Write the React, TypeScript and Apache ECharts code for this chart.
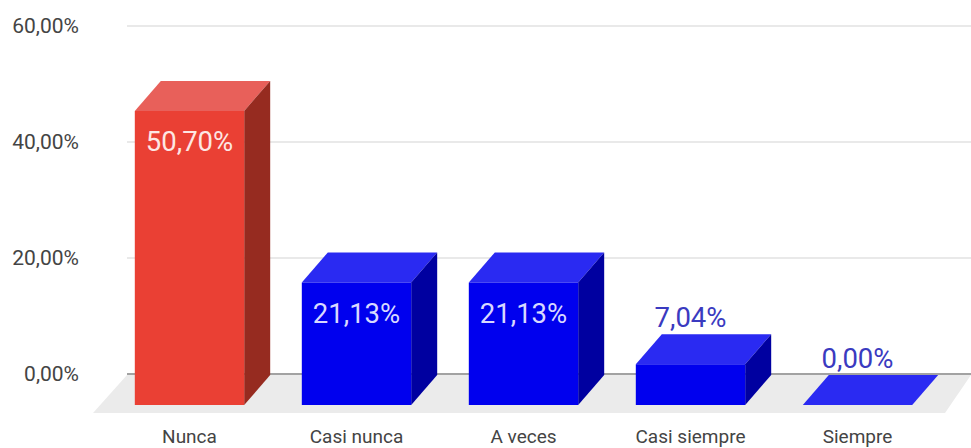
import React, { useEffect, useRef } from "react";
import * as echarts from "echarts";

const categories = ["Nunca", "Casi nunca", "A veces", "Casi siempre", "Siempre"];
const values = [50.7, 21.13, 21.13, 7.04, 0];
const axisMax = 60;
const axisStep = 20;
const pct = (v: number) => v.toFixed(2).replace(".", ",") + "%";

const DX = 26;
const DY = 30;

const palette = {
  red: { front: "#ea4034", top: "#e8605a", side: "#962b20", label: "#fde6e3" },
  blue: { front: "#0000ee", top: "#2a2af2", side: "#0000a0", label: "#d8d8ff" },
};

export default function App() {
  const ref = useRef<HTMLDivElement>(null);
  useEffect(() => {
    document.body.style.margin = "0";
    const chart = echarts.init(ref.current!, undefined, { renderer: "svg" });
    chart.setOption({
      animation: false,
      backgroundColor: "#ffffff",
      textStyle: { fontFamily: "Roboto" },
      grid: [
        { left: 127, width: 844, top: 26, height: 348, outerBoundsMode: "none" },
        { left: 106, width: 835, top: 57, height: 348, outerBoundsMode: "none" },
      ],
      xAxis: [
        {
          gridIndex: 0,
          type: "value",
          min: 0,
          max: 1,
          axisLabel: { show: false },
          axisTick: { show: false },
          splitLine: { show: false },
          axisLine: { show: false },
        },
        {
          gridIndex: 1,
          type: "category",
          data: categories,
          axisLine: { show: false },
          axisTick: { show: false },
          axisLabel: { color: "#444444", fontSize: 19, margin: 22 },
        },
      ],
      yAxis: [
        {
          gridIndex: 0,
          type: "value",
          min: 0,
          max: axisMax,
          interval: axisStep,
          axisLine: { show: false },
          axisTick: { show: false },
          splitLine: { lineStyle: { color: "#e2e2e2", width: 1.5 } },
          axisLabel: { color: "#444444", fontSize: 21, margin: 48, formatter: (v: number) => pct(v) },
        },
        {
          gridIndex: 1,
          type: "value",
          min: 0,
          max: axisMax,
          interval: axisStep,
          axisLine: { show: false },
          axisTick: { show: false },
          splitLine: { show: false },
          axisLabel: { show: false },
        },
      ],
      series: [
        {
          type: "custom",
          xAxisIndex: 0,
          yAxisIndex: 0,
          z: 1,
          silent: true,
          data: [[0, 0]],
          renderItem: (_p: any, api: any) => {
            const [x0, y0] = api.coord([0, 0]);
            const [x1] = api.coord([1, 0]);
            return {
              type: "group",
              children: [
                {
                  type: "polygon",
                  shape: { points: [[x0, y0 + 1], [x1, y0 + 1], [x1 - 26, y0 + 39], [x0 - 34, y0 + 39]] },
                  style: { fill: "#ebebeb" },
                },
                {
                  type: "line",
                  shape: { x1: x0, y1: y0, x2: x1, y2: y0 },
                  style: { stroke: "#8a8a8a", lineWidth: 1.5 },
                },
              ],
            };
          },
        },
        {
          type: "custom",
          xAxisIndex: 1,
          yAxisIndex: 1,
          z: 3,
          silent: true,
          data: values.map((v, i) => [i, v]),
          renderItem: (_p: any, api: any) => {
            const i = api.value(0);
            const v = api.value(1);
            const [cx, top] = api.coord([i, v]);
            const [, base] = api.coord([i, 0]);
            const w = api.size([1, 0])[0] * 0.655;
            const l = cx - w / 2;
            const r = cx + w / 2;
            const c = i === 0 ? palette.red : palette.blue;
            const inside = v > 10;
            const children: any[] = [
              {
                type: "polygon",
                shape: { points: [[l, top], [r, top], [r + DX, top - DY], [l + DX, top - DY]] },
                style: { fill: c.top },
              },
            ];
            if (base - top > 0.5) {
              children.push(
                {
                  type: "polygon",
                  shape: { points: [[r, top], [r + DX, top - DY], [r + DX, base - DY], [r, base]] },
                  style: { fill: c.side },
                },
                { type: "rect", shape: { x: l, y: top, width: w, height: base - top }, style: { fill: c.front } },
              );
            }
            children.push({
              type: "text",
              x: cx,
              y: inside ? top + 31 : top - DY - 17,
              style: {
                text: pct(v),
                fontFamily: "Roboto",
                fontSize: 27.5,
                fill: inside ? c.label : "#3a3ac0",
                align: "center",
                verticalAlign: "middle",
              },
            });
            return { type: "group", children };
          },
        },
      ],
    });
    return () => chart.dispose();
  }, []);
  return <div ref={ref} style={{ position: "absolute", left: 0, top: 0, width: 971, height: 448 }} />;
}
